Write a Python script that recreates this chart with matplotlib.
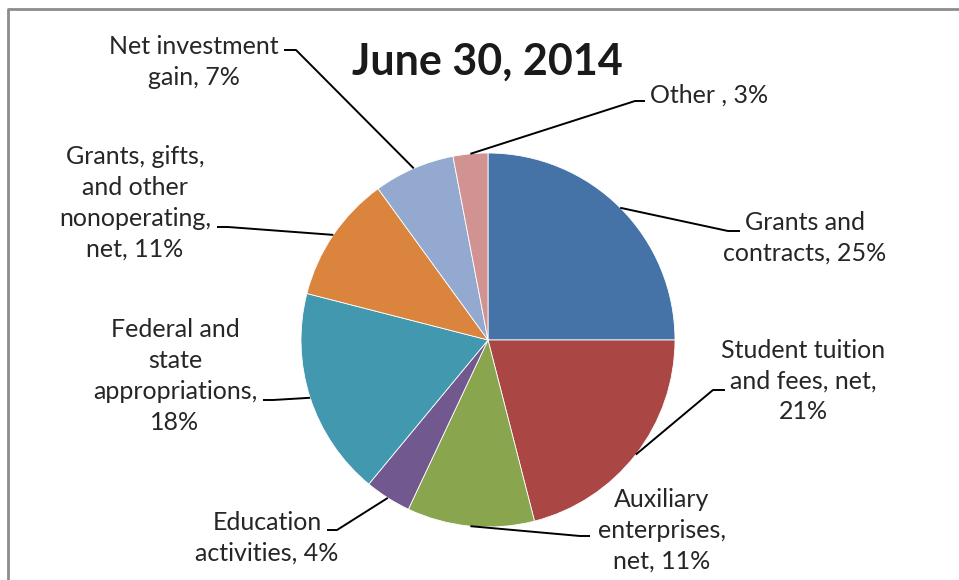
import numpy as np
import matplotlib
matplotlib.use('Agg')
import matplotlib.pyplot as plt

# Revenue shares, June 30, 2014
labels = ['Grants and\ncontracts, 25%',
          'Student tuition\nand fees, net,\n21%',
          'Auxiliary\nenterprises,\nnet, 11%',
          'Education\nactivities, 4%',
          'Federal and\nstate\nappropriations,\n18%',
          'Grants, gifts,\nand other\nnonoperating,\nnet, 11%',
          'Net investment\ngain, 7%',
          'Other , 3%']
shares = [25, 21, 11, 4, 18, 11, 7, 3]
colors = ['#4572A7', '#AA4643', '#89A54E', '#71588F',
          '#4198AF', '#DB843D', '#93A9CF', '#D19392']

# label layout in pixel coords (y from top): text centre, elbow, line end
label_pos = [(805, 238), (803, 381), (662, 530), (267, 538),
             (175, 376), (135, 203), (194, 62), (709, 95)]
elbows = [((728, 231), (740, 231)), ((713, 390), (725, 390)),
          ((580, 536), (590, 536)), ((337, 530), (327, 530)),
          ((273, 400), (263, 400)), ((228, 227), (217, 227)),
          ((296, 50), (284, 50)), ((635, 101), (645, 101))]

W, H = 959, 580
cx, cy, r = 488, 340, 187

plt.rcParams['font.family'] = ['Lato', 'DejaVu Sans']

fig = plt.figure(figsize=(W / 100, H / 100), dpi=100)
ax = fig.add_axes([0, 0, 1, 1])

ax.pie(shares, colors=colors, startangle=90, counterclock=False,
       center=(cx, H - cy), radius=r, frame=True,
       wedgeprops=dict(linewidth=0.6, edgecolor='white'))

# leader lines and labels
total = float(sum(shares))
cum = 0
for i, s in enumerate(shares):
    mid = 90 - (cum + s / 2) / total * 360
    cum += s
    px = cx + r * np.cos(np.radians(mid))
    py = cy - r * np.sin(np.radians(mid))
    (ex, ey), (tx, ty) = elbows[i]
    ax.plot([px, ex, tx], [H - py, H - ey, H - ty], color='black', lw=1.4,
            solid_capstyle='butt', zorder=3)
    lx, ly = label_pos[i]
    ax.text(lx, H - ly, labels[i], ha='center', va='center',
            multialignment='center', fontsize=18, color='#262626',
            linespacing=1.42)

ax.text(487, H - 62, 'June 30, 2014', ha='center', va='center',
        fontsize=31, fontweight='bold', color='#1a1a1a')

# chart border (only top and left edges visible)
ax.plot([8, 8, W], [0, H - 9, H - 9], color='#8c8c8c', lw=2, zorder=4)

ax.set_xlim(0, W)
ax.set_ylim(0, H)
ax.set_aspect('equal')
ax.axis('off')

plt.savefig('out.png', dpi=100)
